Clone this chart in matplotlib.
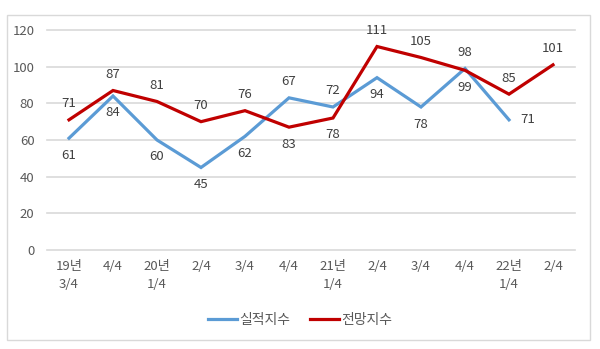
import matplotlib
matplotlib.use("Agg")
import matplotlib.pyplot as plt
from matplotlib.patches import Rectangle

plt.rcParams["font.family"] = ["Noto Sans CJK KR", "DejaVu Sans"]

QUARTERS = ["19년\n3/4", "4/4", "20년\n1/4", "2/4", "3/4", "4/4",
            "21년\n1/4", "2/4", "3/4", "4/4", "22년\n1/4", "2/4"]
ACTUAL = [61, 84, 60, 45, 62, 83, 78, 94, 78, 99, 71]
FORECAST = [71, 87, 81, 70, 76, 67, 72, 111, 105, 98, 85, 101]
LEGENDS = ["실적지수", "전망지수"]

BLUE = "#5B9BD5"
RED = "#C00000"
GRID = "#D9D9D9"
TEXT = "#595959"
LABEL = "#404040"

fig = plt.figure(figsize=(6.0, 3.49), dpi=100)
ax = fig.add_axes([47 / 600, 1 - 250 / 349, 528 / 600, 220 / 349])

x = list(range(len(QUARTERS)))
ax.plot(x[:len(ACTUAL)], ACTUAL, color=BLUE, lw=2.3, label=LEGENDS[0],
        solid_joinstyle="miter")
ax.plot(x, FORECAST, color=RED, lw=2.3, label=LEGENDS[1],
        solid_joinstyle="miter")

# forecast labels sit above the higher line, actual labels below the lower one
for i, f in enumerate(FORECAST):
    top = max(f, ACTUAL[i]) if i < len(ACTUAL) else f
    ax.annotate(str(f), (i, top), xytext=(0, 16), textcoords="offset pixels",
                ha="center", va="center", fontsize=9.5, color=LABEL)
for i, a in enumerate(ACTUAL):
    if i == len(ACTUAL) - 1:
        ax.annotate(str(a), (i, a), xytext=(19, 0), textcoords="offset pixels",
                    ha="center", va="center", fontsize=9.5, color=LABEL)
        continue
    bottom = min(a, FORECAST[i])
    ax.annotate(str(a), (i, bottom), xytext=(0, -17), textcoords="offset pixels",
                ha="center", va="center", fontsize=9.5, color=LABEL)

ax.set_xlim(-0.5, len(QUARTERS) - 0.5)
ax.set_ylim(0, 120)
ax.set_yticks(range(0, 121, 20))
ax.set_xticks(x)
ax.set_xticklabels(QUARTERS, linespacing=1.55)
ax.tick_params(axis="both", length=0, labelsize=9.5, colors=TEXT)
ax.tick_params(axis="x", pad=7)
ax.tick_params(axis="y", pad=9)
ax.grid(axis="y", color=GRID, lw=1.2)
for gl in ax.get_ygridlines():
    gl.set_clip_on(False)
ax.set_axisbelow(True)
for s in ax.spines.values():
    s.set_visible(False)

fig.legend(loc="center", bbox_to_anchor=(0.5, 1 - 320 / 349), ncol=2,
           frameon=False, fontsize=10, handlelength=2.1, handletextpad=0.15,
           columnspacing=1.4, labelcolor=TEXT)

fig.patches.append(Rectangle((7 / 600, 1 - 340 / 349), 583 / 600, 325 / 349,
                             transform=fig.transFigure, fill=False,
                             edgecolor=GRID, lw=1))

plt.savefig("out.png", dpi=100)
